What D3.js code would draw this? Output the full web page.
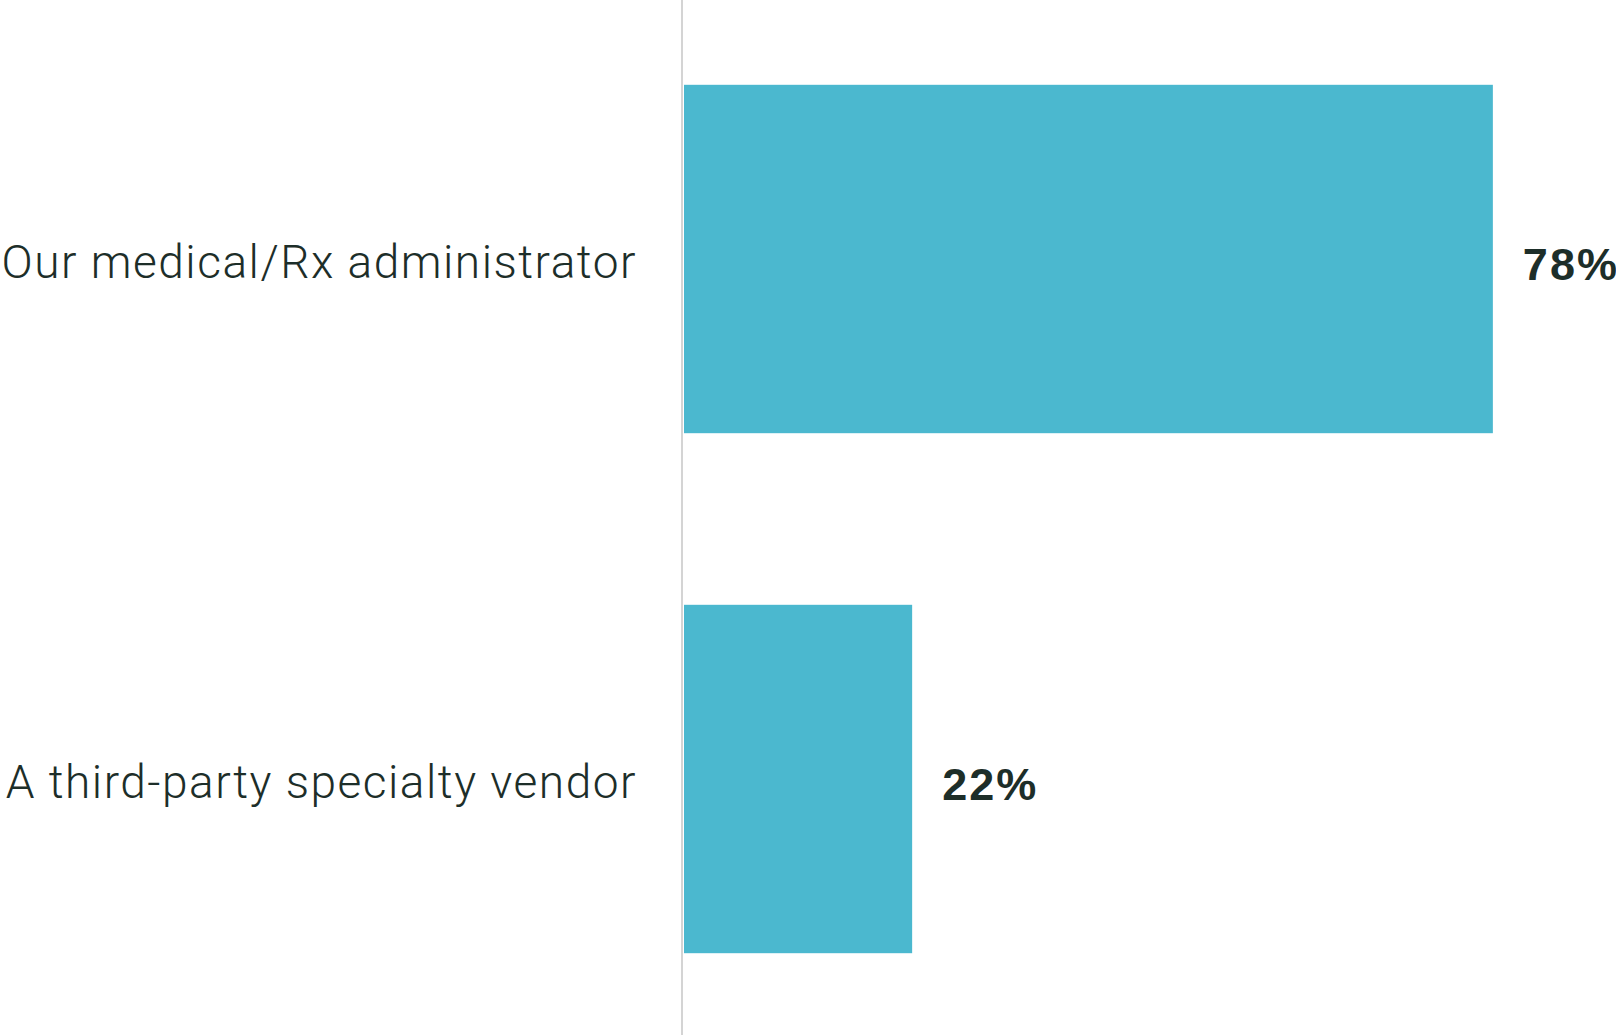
<!DOCTYPE html>
<html>
<head>
<meta charset="utf-8">
<script src="https://cdn.jsdelivr.net/npm/d3@7"></script>
<style>
  html, body { margin: 0; padding: 0; background: #ffffff; }
  svg { display: block; }
</style>
</head>
<body>
<svg id="chart" width="1616" height="1035"></svg>
<script>
// Survey responses: who administers the program
const categories = ["Our medical/Rx administrator", "A third-party specialty vendor"];
const values = [78, 22];
const valueLabels = ["78%", "22%"];

const width = 1616, height = 1035;
const svg = d3.select("#chart");

const x = d3.scaleLinear().domain([0, 100]).range([684, 1721]);
const y = d3.scaleBand().domain(categories).range([-1, 1039]).paddingInner(0.33).paddingOuter(0.165);

// baseline
svg.append("line")
  .attr("x1", 682).attr("x2", 682)
  .attr("y1", 0).attr("y2", height)
  .attr("stroke", "#d4d4d4").attr("stroke-width", 2);

// bars
svg.selectAll("rect.bar")
  .data(values)
  .join("rect")
  .attr("class", "bar")
  .attr("x", x(0))
  .attr("y", (d, i) => y(categories[i]))
  .attr("width", d => x(d) - x(0))
  .attr("height", y.bandwidth())
  .attr("fill", "#4bb8cf");

// category labels
svg.selectAll("text.cat")
  .data(categories)
  .join("text")
  .attr("class", "cat")
  .attr("x", 637)
  .attr("y", d => y(d) + y.bandwidth() / 2 + 3)
  .attr("dy", "0.35em")
  .attr("text-anchor", "end")
  .attr("font-family", "Roboto, 'Liberation Sans', sans-serif")
  .attr("font-weight", 300)
  .attr("font-size", 46)
  .attr("letter-spacing", 1.5)
  .attr("fill", "#1d2e29")
  .text(d => d);

// value labels
svg.selectAll("text.val")
  .data(values)
  .join("text")
  .attr("class", "val")
  .attr("x", d => x(d) + 30)
  .attr("y", (d, i) => y(categories[i]) + y.bandwidth() / 2 + 5)
  .attr("dy", "0.35em")
  .attr("font-family", "'Liberation Sans', Arial, sans-serif")
  .attr("font-weight", 700)
  .attr("font-size", 45)
  .attr("letter-spacing", 2)
  .attr("fill", "#1d2e29")
  .text((d, i) => valueLabels[i]);
</script>
</body>
</html>
